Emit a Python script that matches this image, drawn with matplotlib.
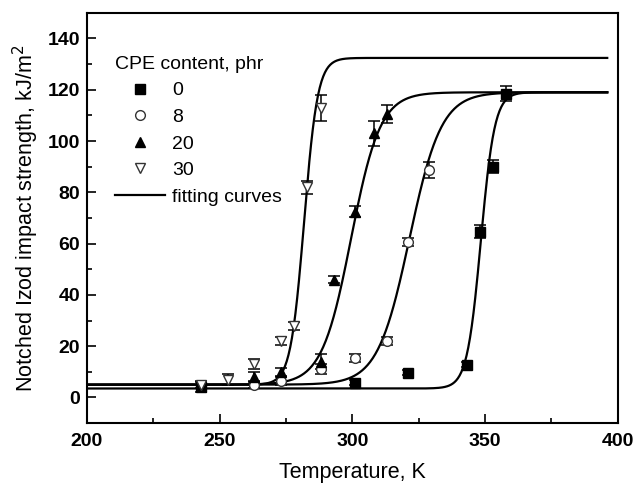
import numpy as np
import matplotlib
matplotlib.use("Agg")
import matplotlib.pyplot as plt
from matplotlib.lines import Line2D
from matplotlib.ticker import MultipleLocator

plt.rcParams["font.family"] = ["Liberation Sans", "DejaVu Sans"]

# measured impact strength (kJ/m^2) vs temperature (K) per CPE content
T0 = [243, 301, 321, 343, 348, 353, 358]
S0 = [4, 5.7, 9.6, 12.8, 64.7, 90, 118.5]
E0 = [2, 1, 1, 1, 2.5, 2.5, 3]

T8 = [263, 273, 288, 301, 313, 321, 329]
S8 = [5, 6.5, 11, 15.5, 22, 60.5, 88.7]
E8 = [1.5, 1.5, 2, 1.5, 1.5, 1.5, 3]

T20 = [263, 273, 288, 293, 301, 308, 313]
S20 = [8, 10, 14, 46, 72.5, 103, 110.7]
E20 = [2, 1.5, 3, 1.5, 2, 5, 3.5]

T30 = [243, 253, 263, 273, 278, 283, 288]
S30 = [5, 7, 13, 22, 28, 82, 113]
E30 = [1.5, 2, 2, 1.5, 1.5, 2.5, 5]

# Boltzmann fitting parameters (lower, upper, centre, width)
fit_A1 = [3.5, 5, 5, 5]
fit_A2 = [119, 119, 119, 132.4]
fit_x0 = [348.4, 321.5, 299.5, 281.8]
fit_dx = [2.6, 6.0, 5.5, 2.56]

labels = ["0", "8", "20", "30"]

fig = plt.figure(figsize=(6.35, 4.92), dpi=100)
ax = fig.add_axes([0.137, 0.140, 0.836, 0.834])

xfit = np.linspace(200, 396, 600)
for a1, a2, x0, dx in zip(fit_A1, fit_A2, fit_x0, fit_dx):
    yfit = a2 + (a1 - a2) / (1 + np.exp((xfit - x0) / dx))
    ax.plot(xfit, yfit, color="black", lw=1.6, zorder=2)

styles = [
    dict(marker="s", mfc="black", mec="black"),
    dict(marker="o", mfc="white", mec="#333333"),
    dict(marker="^", mfc="black", mec="black"),
    dict(marker="v", mfc="white", mec="#333333"),
]
series = [(T0, S0, E0), (T8, S8, E8), (T20, S20, E20), (T30, S30, E30)]
for (t, s, e), st in zip(series, styles):
    ax.errorbar(t, s, yerr=e, fmt="none", ecolor="black", elinewidth=1.1,
                capsize=4.5, capthick=1.1, zorder=3)
    ax.plot(t, s, ls="none", ms=7, mew=1.0, zorder=4, **st)

ax.set_xlim(200, 400)
ax.set_ylim(-10, 150)
ax.xaxis.set_major_locator(MultipleLocator(50))
ax.xaxis.set_minor_locator(MultipleLocator(25))
ax.yaxis.set_major_locator(MultipleLocator(20))
ax.yaxis.set_minor_locator(MultipleLocator(10))
ax.tick_params(which="both", direction="in", width=1.2, top=False, right=False)
ax.tick_params(which="major", length=6.5)
ax.tick_params(which="minor", length=3.5)
ax.tick_params(axis="x", pad=7)
ax.tick_params(axis="y", pad=5)
for lab in ax.get_xticklabels() + ax.get_yticklabels():
    lab.set_fontsize(14)
    lab.set_fontweight("bold")
for sp in ax.spines.values():
    sp.set_linewidth(1.5)

ax.set_xlabel("Temperature, K", fontsize=15.5, labelpad=9)
ax.set_ylabel("Notched Izod impact strength, kJ/m$^2$", fontsize=15.5, labelpad=5)

handles = [Line2D([], [], ls="none", ms=7, mew=1.0, **st) for st in styles]
handles.append(Line2D([], [], color="black", lw=1.6))
leg = ax.legend(handles, labels + ["fitting curves"], title="CPE content, phr",
                loc="upper left", bbox_to_anchor=(0.052, 0.895), frameon=False,
                fontsize=14, title_fontsize=14, alignment="left",
                handlelength=2.6, handletextpad=0.35, labelspacing=0.46,
                borderaxespad=0, borderpad=0)

fig.savefig("out.png", dpi=100)
